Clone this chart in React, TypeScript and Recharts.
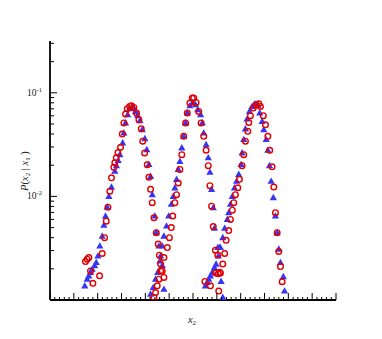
import React from "react";
import { ScatterChart, Scatter, XAxis, YAxis } from "recharts";

// Red open circles, three peaks: [x2, P]
const circlesPeak1: [number, number][] = [
  [1.49, 0.00235], [1.56, 0.00248], [1.63, 0.00257], [1.7, 0.00191], [1.8, 0.00145],
  [2.08, 0.00171], [2.19, 0.00281], [2.29, 0.004], [2.36, 0.00577], [2.43, 0.00787],
  [2.51, 0.01124], [2.58, 0.0151], [2.68, 0.0191], [2.72, 0.0211], [2.78, 0.0236],
  [2.85, 0.0265], [2.96, 0.0298], [3.03, 0.04], [3.1, 0.0512], [3.17, 0.0624],
  [3.24, 0.0702], [3.34, 0.0738], [3.42, 0.075], [3.52, 0.0723], [3.63, 0.0638],
  [3.73, 0.0549], [3.83, 0.0451], [3.89, 0.0341], [3.97, 0.0263], [4.08, 0.0202],
  [4.15, 0.0153], [4.22, 0.0117], [4.29, 0.00869], [4.36, 0.00623], [4.46, 0.00447],
  [4.54, 0.00347], [4.59, 0.00271], [4.64, 0.00222], [4.71, 0.00191], [4.78, 0.00165],
];
const circlesPeak2: [number, number][] = [
  [4.36, 0.00106], [4.43, 0.00118], [4.5, 0.00137], [4.57, 0.00159], [4.64, 0.00191],
  [4.78, 0.00257], [4.92, 0.00321], [5.01, 0.004], [5.09, 0.005], [5.15, 0.00646],
  [5.24, 0.00869], [5.31, 0.0104], [5.38, 0.0135], [5.45, 0.0182], [5.53, 0.0253],
  [5.61, 0.038], [5.69, 0.0512], [5.76, 0.0638], [5.87, 0.0796], [5.97, 0.089],
  [6.03, 0.089], [6.13, 0.0807], [6.24, 0.0661], [6.34, 0.0512], [6.45, 0.038],
  [6.55, 0.0279], [6.64, 0.0198], [6.71, 0.0127], [6.78, 0.00805], [6.85, 0.00511],
  [6.94, 0.00302], [7.04, 0.00272], [7.12, 0.00185], [7.08, 0.00122],
];
const circlesPeak3: [number, number][] = [
  [6.5, 0.00151], [6.73, 0.00137], [6.94, 0.00182], [7.06, 0.00179], [7.15, 0.00182],
  [7.25, 0.00222], [7.33, 0.00281], [7.39, 0.00377], [7.5, 0.00468], [7.57, 0.006],
  [7.65, 0.00736], [7.71, 0.00869], [7.78, 0.0104], [7.88, 0.0121], [7.95, 0.0146],
  [8.06, 0.0198], [8.13, 0.0253], [8.2, 0.0341], [8.3, 0.0425], [8.34, 0.0518],
  [8.41, 0.0601], [8.53, 0.0713], [8.65, 0.0767], [8.76, 0.0784], [8.83, 0.0738],
  [8.95, 0.0601], [9.04, 0.0491], [9.14, 0.038], [9.22, 0.0279], [9.32, 0.0193],
  [9.39, 0.0123], [9.46, 0.00696], [9.53, 0.00447], [9.6, 0.00294], [9.67, 0.0021],
  [9.74, 0.0015],
];

// Blue filled triangles, three peaks: [x2, P]
const trianglesPeak1: [number, number][] = [
  [1.46, 0.00137], [1.56, 0.00159], [1.63, 0.00171], [1.7, 0.00185], [1.77, 0.00198],
  [1.87, 0.00214], [1.94, 0.0023], [2.01, 0.00266], [2.09, 0.00332], [2.19, 0.00414],
  [2.26, 0.00528], [2.33, 0.00645], [2.4, 0.00788], [2.47, 0.01], [2.58, 0.0123],
  [2.72, 0.0175], [2.79, 0.0198], [2.86, 0.0222], [2.93, 0.0253], [3.05, 0.0329],
  [3.1, 0.0409], [3.17, 0.0512], [3.26, 0.0615], [3.34, 0.0702], [3.42, 0.0723],
  [3.52, 0.0713], [3.59, 0.0661], [3.68, 0.0605], [3.77, 0.0539], [3.87, 0.0441],
  [3.98, 0.0361], [4.06, 0.0283], [4.15, 0.0203], [4.22, 0.0156], [4.29, 0.0104],
  [4.4, 0.00646], [4.46, 0.00447], [4.57, 0.00332], [4.64, 0.00266], [4.71, 0.00216],
  [4.78, 0.00127],
];
const trianglesPeak2: [number, number][] = [
  [4.22, 0.00114], [4.33, 0.00132], [4.43, 0.00159], [4.52, 0.00185], [4.61, 0.00238],
  [4.71, 0.00332], [4.78, 0.00414], [4.89, 0.00518], [4.98, 0.00646], [5.09, 0.00839],
  [5.17, 0.01], [5.24, 0.0121], [5.31, 0.0146], [5.38, 0.0182], [5.45, 0.0218],
  [5.53, 0.0294], [5.61, 0.038], [5.69, 0.0512], [5.76, 0.0638], [5.87, 0.075],
  [5.99, 0.0807], [6.11, 0.0767], [6.2, 0.0686], [6.32, 0.0615], [6.39, 0.0512],
  [6.45, 0.0409], [6.55, 0.0316], [6.64, 0.0236], [6.71, 0.0171], [6.78, 0.0117],
  [6.85, 0.00777], [6.9, 0.00492], [7.04, 0.00321], [7.15, 0.00321], [7.18, 0.00151],
  [7.25, 0.00106],
];
const trianglesPeak3: [number, number][] = [
  [6.52, 0.00137], [6.6, 0.00148], [6.66, 0.00159], [6.73, 0.00171], [6.81, 0.00185],
  [6.9, 0.00206], [6.97, 0.00222], [7.06, 0.00266], [7.11, 0.00321], [7.25, 0.004],
  [7.33, 0.00492], [7.44, 0.006], [7.5, 0.00696], [7.57, 0.00839], [7.65, 0.01],
  [7.74, 0.0121], [7.83, 0.014], [7.92, 0.0163], [8.02, 0.0203], [8.06, 0.0263],
  [8.13, 0.0354], [8.2, 0.0448], [8.27, 0.0559], [8.37, 0.0661], [8.48, 0.0738],
  [8.59, 0.0784], [8.72, 0.075], [8.8, 0.0638], [8.9, 0.053], [8.97, 0.0441],
  [9.07, 0.0354], [9.14, 0.0279], [9.21, 0.0198], [9.28, 0.014], [9.37, 0.00973],
  [9.46, 0.00646], [9.53, 0.00447], [9.6, 0.0031], [9.67, 0.0023], [9.79, 0.00168],
  [9.84, 0.00122],
];

const xDomain: [number, number] = [0, 12];
const yDomain: [number, number] = [0.001, 0.31623];
const xTicks = Array.from({ length: 61 }, (_, i) => i / 5);
const yMajorTicks = [0.01, 0.1];
const yMinorTicks = [
  0.002, 0.003, 0.004, 0.005, 0.006, 0.007, 0.008, 0.009,
  0.02, 0.03, 0.04, 0.05, 0.06, 0.07, 0.08, 0.09,
  0.2, 0.3,
];
const yTicks = [...yMinorTicks, ...yMajorTicks].sort((a, b) => a - b);

const toPoints = (arr: [number, number][]) => arr.map(([x, y]) => ({ x, y }));
const circleData = [...circlesPeak1, ...circlesPeak2, ...circlesPeak3].map(([x, y]) => ({ x, y }));
const triangleData = toPoints([...trianglesPeak1, ...trianglesPeak2, ...trianglesPeak3]);

const RED = "#e00000";
const BLUE = "#3535f5";
const FONT = "'Liberation Serif', 'Times New Roman', serif";

const YTick = (props: any) => {
  const { x, y, payload } = props;
  const v = payload.value;
  const isMajor = yMajorTicks.some((m) => Math.abs(m - v) < 1e-9);
  if (!isMajor) {
    return <line x1={x} x2={x + 4} y1={y} y2={y} stroke="#000" strokeWidth={1} />;
  }
  const exp = Math.round(Math.log10(v));
  return (
    <g>
      <line x1={x} x2={x + 7} y1={y} y2={y} stroke="#000" strokeWidth={1} />
      <text x={x - 8} y={y + 3} textAnchor="end" fontFamily={FONT} fontSize={9.5} fill="#222">
        10
        <tspan dy={-4} fontSize={6.5}>{String(exp)}</tspan>
      </text>
    </g>
  );
};

const XTick = (props: any) => {
  const { x, y, payload } = props;
  const v = payload.value;
  const isMajor = Math.abs(v - Math.round(v)) < 1e-6;
  return <line x1={x} x2={x} y1={y} y2={y - (isMajor ? 7 : 3)} stroke="#000" strokeWidth={1} />;
};

const Circle = (props: any) => {
  const { cx, cy } = props;
  if (cx == null || cy == null) return null;
  return <circle cx={cx} cy={cy} r={2.8} fill="none" stroke={RED} strokeWidth={1.4} />;
};

const Triangle = (props: any) => {
  const { cx, cy } = props;
  if (cx == null || cy == null) return null;
  const h = 6.4;
  const w = 3.6;
  return (
    <polygon
      points={`${cx},${cy - h * 0.6} ${cx - w},${cy + h * 0.4} ${cx + w},${cy + h * 0.4}`}
      fill={BLUE}
    />
  );
};

const YLabel = () => (
  <text
    x={25}
    y={174}
    transform="rotate(-90, 25, 171)"
    textAnchor="middle"
    fontFamily={FONT}
    fontSize={10.5}
    fill="#222"
  >
    <tspan fontStyle="italic">P</tspan>(<tspan fontStyle="italic">x</tspan>
    <tspan fontSize={7} dy={2}>2</tspan>
    <tspan dy={-2}> | </tspan>
    <tspan fontStyle="italic">x</tspan>
    <tspan fontSize={7} dy={2}>1</tspan>
    <tspan dy={-2}> )</tspan>
  </text>
);

const XLabel = () => (
  <text x={192} y={323} textAnchor="middle" fontFamily={FONT} fontSize={10.5} fill="#222">
    <tspan fontStyle="italic">x</tspan>
    <tspan fontSize={7} dy={2}>2</tspan>
  </text>
);

export default function App() {
  return (
    <div style={{ position: "absolute", left: 0, top: 0, width: 382, height: 339, background: "#fff" }}>
      <ScatterChart width={382} height={339} margin={{ top: 41, right: 46, bottom: 0, left: 0 }}>
        <XAxis
          type="number"
          dataKey="x"
          domain={xDomain}
          ticks={xTicks}
          interval={0}
          allowDataOverflow
          height={39}
          tickSize={0}
          tickMargin={0}
          tickLine={false}
          tick={<XTick />}
          axisLine={{ stroke: "#000", strokeWidth: 1.8 }}
          label={{ content: () => <XLabel /> }}
        />
        <YAxis
          type="number"
          dataKey="y"
          scale="log"
          domain={yDomain}
          ticks={yTicks}
          interval={0}
          allowDataOverflow
          width={50}
          tickSize={0}
          tickMargin={0}
          tickLine={false}
          tick={<YTick />}
          axisLine={{ stroke: "#000", strokeWidth: 1.8 }}
          label={{ content: () => <YLabel /> }}
        />
        <Scatter data={triangleData} shape={<Triangle />} isAnimationActive={false} />
        <Scatter data={circleData} shape={<Circle />} isAnimationActive={false} />
      </ScatterChart>
    </div>
  );
}
